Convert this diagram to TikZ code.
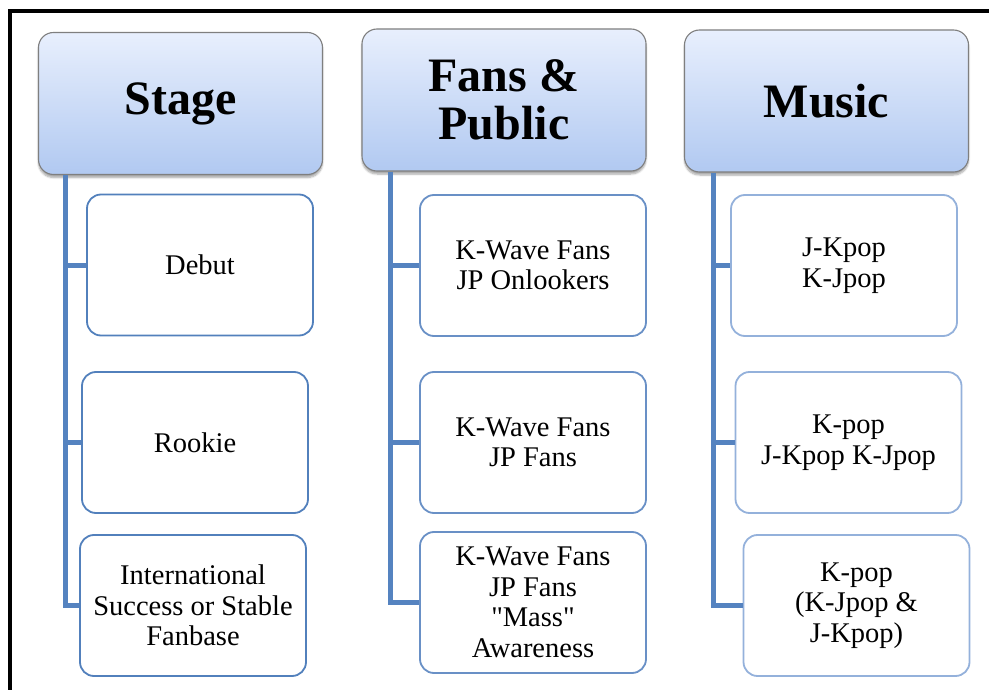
\documentclass[tikz,border=0pt]{standalone}
\usepackage{fontspec}
\setmainfont{Liberation Serif}
% plain family for box texts, so straight quotes stay straight
\newfontfamily\itemfont{Liberation Serif}
\usetikzlibrary{shadows.blur,calc}
\definecolor{hdrtop}{HTML}{E8EFFD}
\definecolor{hdrbot}{HTML}{B1C9F1}
\definecolor{hdredge}{HTML}{7F7F7F}
\definecolor{spine}{HTML}{5583C0}
\definecolor{edgeA}{HTML}{5280BC}
\definecolor{edgeB}{HTML}{6990C6}
\definecolor{edgeC}{HTML}{94B1DB}
\tikzset{
  header/.style={draw=hdredge, line width=1.1pt, rounded corners=15pt,
    top color=hdrtop, bottom color=hdrbot, align=center,
    font=\fontsize{48}{48}\selectfont\bfseries,
    minimum width=284pt, minimum height=142pt, inner sep=0pt,
    blur shadow={shadow xshift=0pt, shadow yshift=-3pt, shadow blur steps=6, shadow opacity=35}},
  item/.style={draw, fill=white, line width=1.8pt, rounded corners=14pt, align=center,
    font=\itemfont\fontsize{28.5}{30.5}\selectfont,
    minimum width=226pt, minimum height=141pt, inner sep=0pt},
  conn/.style={draw=spine, line width=5pt},
}
\begin{document}
\begin{tikzpicture}[x=1pt,y=-1pt]
\useasboundingbox (0,0) rectangle (989,690);
% outer frame (left and top edges)
\draw[line width=3.5pt] (10,692) -- (10,11) -- (992,11);

% column headings
\node[header] (hS) at (180.5,103.5) {Stage};
\node[header] (hF) at (504,100) {Fans \&\\Public};
\node[header] (hM) at (826.5,101) {Music};

% Stage column
\node[item, draw=edgeA] (s1) at (200,265) {Debut};
\node[item, draw=edgeA] (s2) at (195,442.5) {Rookie};
\node[item, draw=edgeA] (s3) at (193,605.5) {International\\Success or Stable\\Fanbase};

% Fans & Public column
\node[item, draw=edgeB] (f1) at (533,265.5) {K-Wave Fans\\JP Onlookers};
\node[item, draw=edgeB] (f2) at (533,442.5) {K-Wave Fans\\JP Fans};
\node[item, draw=edgeB] (f3) at (533,602.5) {K-Wave Fans\\JP Fans\\"Mass"\\Awareness};

% Music column
\node[item, draw=edgeC] (m1) at (844,265.5) {J-Kpop\\K-Jpop};
\node[item, draw=edgeC] (m2) at (848.5,442.5) {K-pop\\J-Kpop K-Jpop};
\node[item, draw=edgeC] (m3) at (856.5,605.5) {K-pop\\(K-Jpop \&\\J-Kpop)};

% spines
\coordinate (sx) at ($(hS.south west)+(28,0)$);
\coordinate (fx) at ($(hF.south west)+(29,0)$);
\coordinate (mx) at ($(hM.south west)+(30,0)$);

\path[conn] (sx) |- (s3.west);
\path[conn] (s1.west) -- (s1.west -| sx);
\path[conn] (s2.west) -- (s2.west -| sx);

\path[conn] (fx) |- (f3.west);
\path[conn] (f1.west) -- (f1.west -| fx);
\path[conn] (f2.west) -- (f2.west -| fx);

\path[conn] (mx) |- (m3.west);
\path[conn] (m1.west) -- (m1.west -| mx);
\path[conn] (m2.west) -- (m2.west -| mx);
\end{tikzpicture}
\end{document}
